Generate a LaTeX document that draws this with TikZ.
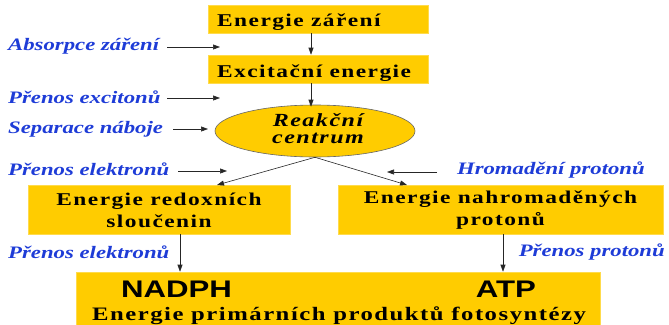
\documentclass[tikz,border=0pt]{standalone}
\usepackage{fontspec}
\setmainfont{Liberation Serif}
\newfontfamily\boxfont[FakeStretch=1.3,LetterSpace=8]{Liberation Serif}
\newfontfamily\lblfont[FakeStretch=1.3]{Liberation Serif}
\newfontfamily\bigsans[FakeStretch=1.3]{Liberation Sans}
\usetikzlibrary{arrows.meta,shapes.geometric}
\definecolor{boxyellow}{RGB}{255,204,0}
\definecolor{lblblue}{RGB}{30,60,215}
\begin{document}
\begin{tikzpicture}[x=1pt,y=-1pt,
  yrect/.style={rectangle,fill=boxyellow,draw=boxyellow!70!white,line width=0.6pt,inner sep=0pt},
  boxtxt/.style={font=\boxfont\bfseries\fontsize{18}{22}\selectfont,text=black},
  lbl/.style={font=\lblfont\bfseries\itshape\fontsize{17.5}{20}\selectfont,text=lblblue,inner sep=0pt},
  arr/.style={-{Triangle[length=7pt,width=5pt]},line width=0.6pt,draw=black!85},
]
\useasboundingbox (0,0) rectangle (669,324);

% boxes
\node[yrect,minimum width=220,minimum height=28] (b1) at (318,19) {};
\node[boxtxt,anchor=base west,inner sep=0pt] (t1) at (217,26) {Energie záření};
\node[yrect,minimum width=220,minimum height=28] (b2) at (318,69) {};
\node[boxtxt,anchor=base west,inner sep=0pt] (t2) at (217,77) {Excitační energie};
\node[ellipse,fill=boxyellow,draw=black!60,line width=0.6pt,minimum width=200,minimum height=52,inner sep=0pt] (rc) at (315,131) {};
\node[boxtxt,font=\boxfont\bfseries\itshape\fontsize{18.5}{17}\selectfont,align=center,inner sep=0pt] (rct) at (318,129) {Reakční\\centrum};
\node[yrect,minimum width=262,minimum height=49] (lb) at (159,209.5) {};
\node[boxtxt,align=center,inner sep=0pt] (lbt) at (159,210) {Energie redoxních\\sloučenin};
\node[yrect,minimum width=325,minimum height=49] (rb) at (500.5,209.5) {};
\node[boxtxt,align=center,inner sep=0pt] (rbt) at (500.5,210) {Energie nahromaděných\\protonů};
\node[yrect,minimum width=524,minimum height=60] (bb) at (338,302) {};
\node[font=\bigsans\bfseries\fontsize{24}{28}\selectfont,anchor=base,inner sep=0pt] (nadph) at (176.5,297) {NADPH};
\node[font=\bigsans\bfseries\fontsize{24}{28}\selectfont,anchor=base,inner sep=0pt] (atp) at (506,297) {ATP};
\node[boxtxt,font=\boxfont\bfseries\fontsize{19}{22}\selectfont,anchor=base,inner sep=0pt] (prim) at (339,320.5) {Energie primárních produktů fotosyntézy};

% labels
\node[lbl,anchor=west] (l1) at (8,46) {Absorpce záření};
\node[lbl,anchor=west] (l2) at (8,97) {Přenos excitonů};
\node[lbl,anchor=west] (l3) at (8,129) {Separace náboje};
\node[lbl,anchor=west] (l4) at (8,169) {Přenos elektronů};
\node[lbl,anchor=east] (l5) at (645,170) {Hromadění protonů};
\node[lbl,anchor=west] (l6) at (8,252) {Přenos elektronů};
\node[lbl,anchor=east] (l7) at (665,252) {Přenos protonů};

% arrow end points
\coordinate (s1) at (167,47);  \coordinate (e1) at (220,47);
\coordinate (s2) at (167,98);  \coordinate (e2) at (220,98);
\coordinate (s3) at (173,129); \coordinate (e3) at (208,129);
\coordinate (s4) at (178,171); \coordinate (e4) at (227,171);
\coordinate (s5) at (437,172); \coordinate (e5) at (387,172);
\coordinate (lt) at (217,185);
\coordinate (rt) at (407,185);

% connectors
\draw[arr] ([xshift=-7pt]b1.south) -- ([xshift=-7pt]b2.north);
\draw[arr] ([xshift=-7pt]b2.south) -- ([xshift=-7pt,yshift=-2pt]b2.south |- rc.north);
\draw[arr] (s1) -- (e1);
\draw[arr] (s2) -- (e2);
\draw[arr] (s3) -- (e3);
\draw[arr] (s4) -- (e4);
\draw[arr] (s5) -- (e5);
\draw[arr] (rc.south) -- (lt);
\draw[arr] (rc.south) -- (rt);
\draw[arr] (lb.south -| nadph) ++(3.5,0) -- ([xshift=3.5pt]nadph |- bb.north);
\draw[arr] ([xshift=-3pt]rb.south -| atp) -- ([xshift=-3pt]atp |- bb.north);
\end{tikzpicture}
\end{document}
